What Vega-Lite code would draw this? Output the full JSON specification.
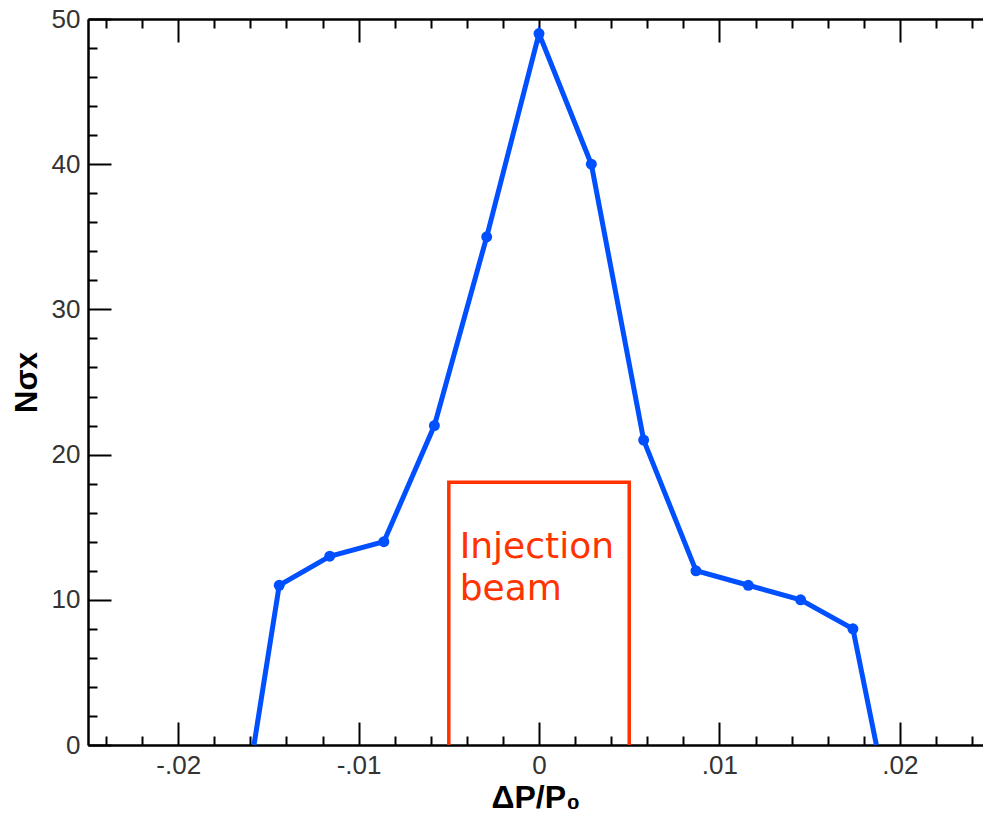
{
  "$schema": "https://vega.github.io/schema/vega-lite/v6.json",
  "width": 895,
  "height": 726,
  "autosize": {"type": "none"},
  "padding": {"left": 88, "top": 19, "right": 0, "bottom": 77},
  "background": "white",
  "config": {
    "view": {"stroke": null},
    "axis": {
      "grid": false,
      "domainColor": "black",
      "domainWidth": 2,
      "tickColor": "black",
      "tickWidth": 2,
      "labelFont": "Liberation Sans",
      "labelFontSize": 26,
      "labelColor": "#333333",
      "titleFont": "Liberation Sans",
      "titleFontWeight": "bold",
      "titleColor": "black"
    }
  },
  "datasets": {
    "curve": [
      {"dp": -0.0158, "n": 0, "marker": false},
      {"dp": -0.0144, "n": 11, "marker": true},
      {"dp": -0.0116, "n": 13, "marker": true},
      {"dp": -0.0086, "n": 14, "marker": true},
      {"dp": -0.0058, "n": 22, "marker": true},
      {"dp": -0.0029, "n": 35, "marker": true},
      {"dp": 0.0, "n": 49, "marker": true},
      {"dp": 0.0029, "n": 40, "marker": true},
      {"dp": 0.0058, "n": 21, "marker": true},
      {"dp": 0.0087, "n": 12, "marker": true},
      {"dp": 0.0116, "n": 11, "marker": true},
      {"dp": 0.0145, "n": 10, "marker": true},
      {"dp": 0.0174, "n": 8, "marker": true},
      {"dp": 0.0187, "n": 0, "marker": false}
    ],
    "box": [
      {"dp": -0.005, "n": 0, "k": 1},
      {"dp": -0.005, "n": 18.1, "k": 2},
      {"dp": 0.005, "n": 18.1, "k": 3},
      {"dp": 0.005, "n": 0, "k": 4}
    ],
    "note": [
      {"dp": -0.0044, "n": 12.9, "label": "Injection\nbeam"}
    ]
  },
  "layer": [
    {
      "data": {"name": "curve"},
      "mark": {"type": "line", "color": "#0050ff", "strokeWidth": 5},
      "encoding": {
        "x": {
          "field": "dp", "type": "quantitative",
          "scale": {"domain": [-0.025, 0.02461], "nice": false, "zero": false},
          "axis": {
            "orient": "bottom",
            "values": [-0.02, -0.01, 0, 0.01, 0.02],
            "tickSize": -23,
            "labelPadding": 30,
            "labelExpr": "datum.value == 0 ? '0' : (datum.value < 0 ? '-' : '') + substring(format(abs(datum.value), '.2f'), 1)",
            "title": "ΔP/P₀",
            "titleFontSize": 32,
            "titlePadding": 4
          }
        },
        "y": {
          "field": "n", "type": "quantitative",
          "scale": {"domain": [0, 50], "nice": false},
          "axis": {
            "orient": "left",
            "values": [0, 10, 20, 30, 40, 50],
            "tickSize": -23,
            "labelPadding": 31,
            "title": "Nσx",
            "titleFontSize": 31,
            "titlePadding": 8
          }
        }
      }
    },
    {
      "data": {"name": "curve"},
      "transform": [{"filter": "datum.marker"}],
      "mark": {"type": "point", "filled": true, "color": "#0050ff", "size": 120, "opacity": 1},
      "encoding": {
        "x": {
          "field": "dp", "type": "quantitative",
          "axis": {
            "orient": "bottom",
            "values": [-0.024, -0.022, -0.018, -0.016, -0.014, -0.012, -0.008, -0.006, -0.004, -0.002, 0.002, 0.004, 0.006, 0.008, 0.012, 0.014, 0.016, 0.018, 0.022, 0.024],
            "tickSize": -9,
            "labels": false,
            "title": null
          }
        },
        "y": {
          "field": "n", "type": "quantitative",
          "axis": {
            "orient": "left",
            "values": [2, 4, 6, 8, 12, 14, 16, 18, 22, 24, 26, 28, 32, 34, 36, 38, 42, 44, 46, 48],
            "tickSize": -9,
            "labels": false,
            "title": null
          }
        }
      }
    },
    {
      "data": {"name": "box"},
      "mark": {"type": "line", "color": "#ff3300", "strokeWidth": 3.5},
      "encoding": {
        "x": {
          "field": "dp", "type": "quantitative",
          "axis": {
            "orient": "top",
            "values": [-0.02, -0.01, 0, 0.01, 0.02],
            "tickSize": -23,
            "labels": false,
            "title": null
          }
        },
        "y": {"field": "n", "type": "quantitative", "axis": null},
        "order": {"field": "k", "type": "quantitative"}
      }
    },
    {
      "data": {"name": "note"},
      "mark": {"type": "text", "color": "#ff3300", "font": "DejaVu Sans", "fontSize": 36, "align": "left", "baseline": "alphabetic", "lineBreak": "\n", "lineHeight": 42},
      "encoding": {
        "x": {
          "field": "dp", "type": "quantitative",
          "axis": {
            "orient": "top",
            "values": [-0.024, -0.022, -0.018, -0.016, -0.014, -0.012, -0.008, -0.006, -0.004, -0.002, 0.002, 0.004, 0.006, 0.008, 0.012, 0.014, 0.016, 0.018, 0.022, 0.024],
            "tickSize": -9,
            "labels": false,
            "title": null
          }
        },
        "y": {"field": "n", "type": "quantitative", "axis": null},
        "text": {"field": "label"}
      }
    }
  ],
  "resolve": {"axis": {"x": "independent", "y": "independent"}}
}
